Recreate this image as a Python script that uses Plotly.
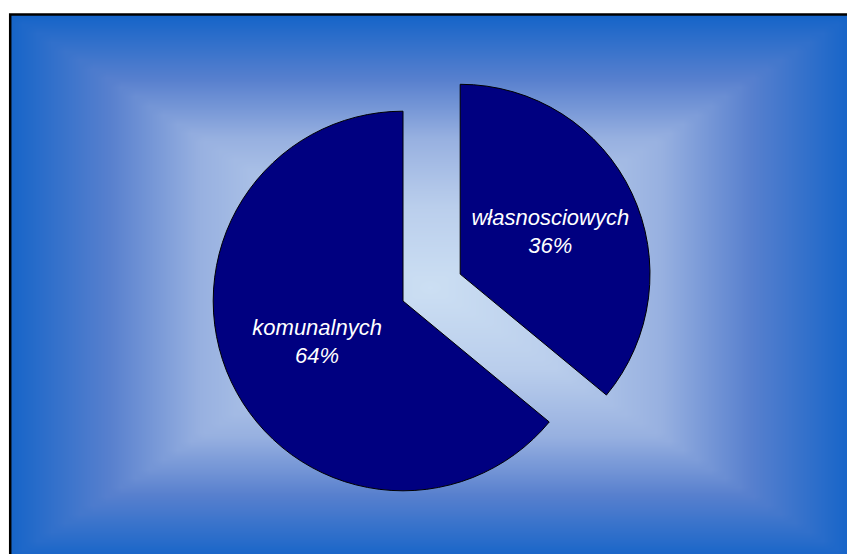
"""Pie chart: lokale komunalne vs własnościowe, on a rectangular centre gradient."""

import numpy as np
import plotly.graph_objects as go

labels = ["własnosciowych", "komunalnych"]
shares = [36, 64]
slice_pull = [0.333, 0]

W, H = 847, 554
NAVY = "#000080"

# background: rectangular "from centre" gradient (Excel style)
x0, x1, y0, y1 = 9, 851, 14, 560
gx = np.linspace(x0, x1, 61)
gy = np.linspace(y0, y1, 61)
cx, cy = (x0 + x1) / 2, (y0 + y1) / 2
tx = np.abs(gx - cx) / (x1 - cx)
ty = np.abs(gy - cy) / (y1 - cy)
grad = np.maximum(tx[None, :], ty[:, None])

fig = go.Figure()

fig.add_trace(
    go.Heatmap(
        x=gx, y=gy, z=grad,
        zmin=0, zmax=1, zsmooth="best",
        colorscale=[
            [0.0, "rgb(204,223,243)"],
            [0.3, "rgb(186,206,236)"],
            [0.55, "rgb(151,176,224)"],
            [0.76, "rgb(88,128,206)"],
            [1.0, "rgb(21,100,200)"],
        ],
        showscale=False, hoverinfo="skip",
    )
)

fig.add_trace(
    go.Pie(
        labels=labels,
        values=shares,
        pull=slice_pull,
        sort=False,
        direction="clockwise",
        rotation=0,
        marker=dict(colors=[NAVY, NAVY], line=dict(color="black", width=1)),
        textinfo="label+percent",
        textposition="inside",
        insidetextorientation="horizontal",
        textfont=dict(family="Liberation Sans, Arial", size=22, color="white", style="italic"),
        domain=dict(x=[103 / W, 703 / W], y=[0, 1 - 48 / H]),
        showlegend=False,
    )
)

fig.update_xaxes(domain=[10 / W, 1], range=[10, W], visible=False, fixedrange=True)
fig.update_yaxes(domain=[0, 1 - 14.5 / H], range=[H, 14.5], visible=False, fixedrange=True)

fig.add_shape(
    type="rect", xref="paper", yref="paper",
    x0=10.2 / W, x1=1.05, y0=-0.05, y1=1 - 14.5 / H,
    line=dict(color="black", width=2.5),
)

fig.update_layout(
    width=W, height=H,
    margin=dict(l=0, r=0, t=0, b=0),
    paper_bgcolor="white",
    plot_bgcolor="rgba(0,0,0,0)",
    showlegend=False,
)

# the figure fills the whole window: drop the page margin and scrollbars
fig.write_html(
    "out.html",
    config={"displayModeBar": False},
    post_script=(
        "document.body.style.margin = '0';"
        "document.documentElement.style.overflow = 'hidden';"
    ),
)
